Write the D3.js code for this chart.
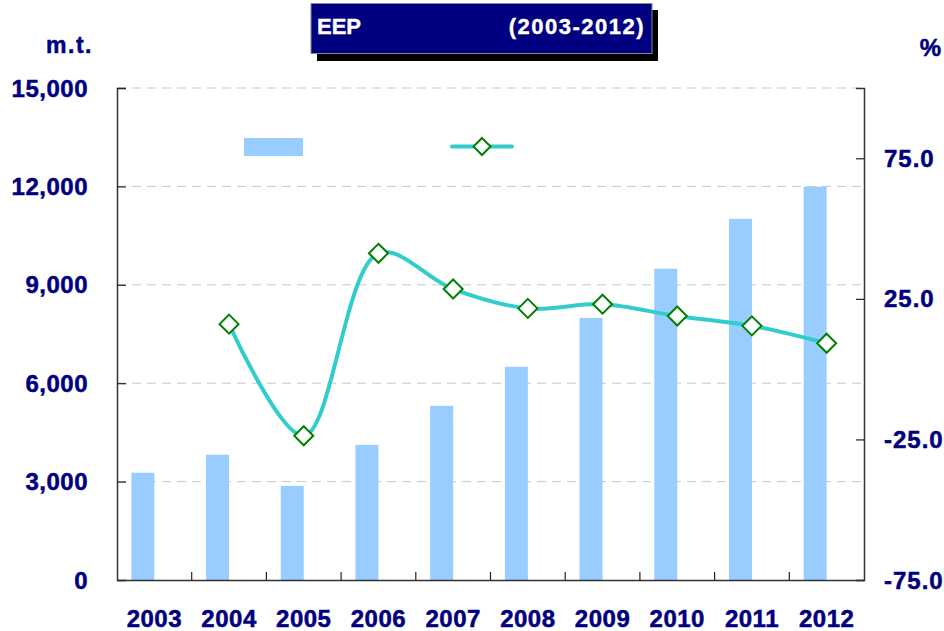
<!DOCTYPE html>
<html><head><meta charset="utf-8">
<script src="https://cdn.jsdelivr.net/npm/d3@7"></script>
<style>
html,body{margin:0;padding:0;background:#fff;}
text{font-family:"Liberation Sans",Arial,sans-serif;font-weight:bold;}
</style></head>
<body><svg id="c" width="944" height="631"></svg>
<script>
const years = ["2003","2004","2005","2006","2007","2008","2009","2010","2011","2012"];
const volume = [3270, 3820, 2870, 4120, 5310, 6500, 7990, 9490, 11010, 11990];
const growthYears = ["2004","2005","2006","2007","2008","2009","2010","2011","2012"];
const growth = [16.0, -23.7, 41.2, 28.5, 21.6, 23.1, 18.9, 15.4, 9.2];
const leftTicks = [0, 3000, 6000, 9000, 12000, 15000];
const rightTicks = [-75, -25, 25, 75];
const titleLeft = "EEP", titleRight = "(2003-2012)";
const leftUnit = "m.t.", rightUnit = "%";

const navy = "#000080";
const svg = d3.select("#c");
const L = 117, R = 864, T = 88, B = 580;

const x = d3.scaleBand().domain(years).range([L, R]);
const yL = d3.scaleLinear().domain([0, 15000]).range([B, T]);
const yR = d3.scaleLinear().domain([-75, 100]).range([B, T]);

// gridlines
svg.append("g").selectAll("line").data(leftTicks.filter(d => d > 0)).join("line")
  .attr("x1", L).attr("x2", R).attr("y1", d => yL(d)).attr("y2", d => yL(d))
  .attr("stroke", "#c8c8c8").attr("stroke-width", 1).attr("stroke-dasharray", "9,6");

// bars
const bw = 23;
svg.append("g").selectAll("rect").data(years.map((y, i) => ({y, v: volume[i]}))).join("rect")
  .attr("x", d => x(d.y) + x.bandwidth() / 2 - bw)
  .attr("width", bw)
  .attr("y", d => yL(d.v)).attr("height", d => B - yL(d.v))
  .attr("fill", "#99ccff");

// axes
const axL = svg.append("g").attr("transform", `translate(${L},0)`)
  .call(d3.axisRight(yL).tickValues(leftTicks).tickSize(9).tickFormat(""));
const axR = svg.append("g").attr("transform", `translate(${R},0)`)
  .call(d3.axisLeft(yR).tickValues(rightTicks).tickSize(8).tickFormat(""));
const axB = svg.append("g").attr("transform", `translate(0,${B})`)
  .call(d3.axisTop(x).tickSize(0).tickFormat(""));
[axL, axR, axB].forEach(g => {
  g.selectAll("path.domain").attr("stroke", "#333").attr("stroke-width", 1.5);
  g.selectAll("line").attr("stroke", "#222").attr("stroke-width", 1.2);
});
// category boundary ticks
svg.append("g").selectAll("line").data(years.slice(1)).join("line")
  .attr("x1", d => x(d)).attr("x2", d => x(d)).attr("y1", B).attr("y2", B - 8)
  .attr("stroke", "#222").attr("stroke-width", 1.2);

// tick labels
const heavy = sel => sel.attr("stroke", navy).attr("stroke-width", 0.5);
svg.append("g").selectAll("text").data(leftTicks).join("text")
  .attr("x", 88).attr("y", d => yL(d)).attr("dy", "0.36em")
  .attr("text-anchor", "end").attr("fill", navy).attr("font-size", 24)
  .attr("letter-spacing", 0.5).call(heavy)
  .text(d => d3.format(",")(d));
svg.append("g").selectAll("text").data(rightTicks).join("text")
  .attr("x", 884).attr("y", d => yR(d)).attr("dy", "0.36em")
  .attr("text-anchor", "start").attr("fill", navy).attr("font-size", 24)
  .attr("letter-spacing", 1).call(heavy)
  .text(d => d3.format(".1f")(d).replace("\u2212", "-"));
svg.append("g").selectAll("text").data(years).join("text")
  .attr("x", d => x(d) + x.bandwidth() / 2).attr("y", 618).attr("dy", "0.36em")
  .attr("text-anchor", "middle").attr("fill", navy).attr("font-size", 24)
  .attr("letter-spacing", 0.5).call(heavy)
  .text(d => d);

// units
svg.append("text").attr("x", 93).attr("y", 53).attr("text-anchor", "end")
  .attr("fill", navy).attr("font-size", 23).attr("letter-spacing", 1.5).call(heavy).text(leftUnit);
svg.append("text").attr("x", 941).attr("y", 56).attr("text-anchor", "end")
  .attr("fill", navy).attr("font-size", 24).call(heavy).text(rightUnit);

// line
const pts = growthYears.map((y, i) => [x(y) + x.bandwidth() / 2, yR(growth[i])]);
svg.append("path").attr("d", d3.line().curve(d3.curveCatmullRom.alpha(0.5))(pts))
  .attr("fill", "none").attr("stroke", "#33cccc").attr("stroke-width", 4);
const diamond = (cx, cy, r) => `M${cx},${cy - r}L${cx + r},${cy}L${cx},${cy + r}L${cx - r},${cy}Z`;
svg.append("g").selectAll("path").data(pts).join("path")
  .attr("d", d => diamond(d[0], d[1], 9.5))
  .attr("fill", "#fff").attr("stroke", "#008000").attr("stroke-width", 2);

// legend
svg.append("rect").attr("x", 244).attr("y", 138).attr("width", 59).attr("height", 18).attr("fill", "#99ccff");
svg.append("line").attr("x1", 452).attr("x2", 512).attr("y1", 146.5).attr("y2", 146.5)
  .attr("stroke", "#33cccc").attr("stroke-width", 4).attr("stroke-linecap", "round");
svg.append("path").attr("d", diamond(482, 146.5, 8.5))
  .attr("fill", "#fff").attr("stroke", "#008000").attr("stroke-width", 2);

// title box
svg.append("rect").attr("x", 317).attr("y", 10).attr("width", 341).attr("height", 51).attr("fill", "#000");
svg.append("rect").attr("x", 311).attr("y", 3.5).attr("width", 341).attr("height", 50)
  .attr("fill", navy).attr("stroke", "#888").attr("stroke-width", 1);
svg.append("text").attr("x", 317).attr("y", 34).attr("fill", "#fff").attr("font-size", 22)
  .attr("stroke", "#fff").attr("stroke-width", 0.4).text(titleLeft);
svg.append("text").attr("x", 645).attr("y", 34).attr("text-anchor", "end").attr("fill", "#fff")
  .attr("font-size", 22).attr("letter-spacing", 1.5).attr("stroke", "#fff").attr("stroke-width", 0.4).text(titleRight);
</script></body></html>
